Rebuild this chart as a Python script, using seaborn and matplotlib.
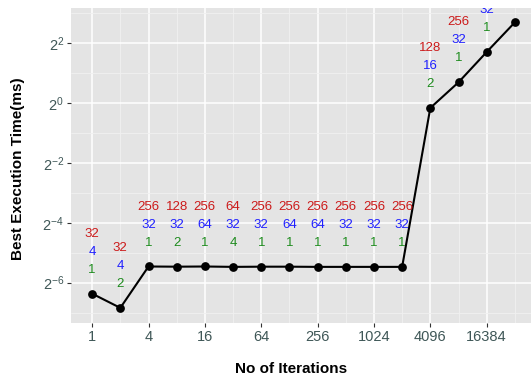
import numpy as np
import pandas as pd
import seaborn as sns
import matplotlib
matplotlib.use("Agg")
import matplotlib.pyplot as plt
from matplotlib.ticker import FixedLocator, FixedFormatter

# Benchmark results: best execution time per iteration count
iterations = [1, 2, 4, 8, 16, 32, 64, 128, 256, 512, 1024, 2048, 4096, 8192, 16384, 32768]
best_time_ms = [0.0121, 0.0087, 0.0227, 0.0226, 0.0227, 0.0225, 0.0226, 0.0226,
                0.0225, 0.0225, 0.0225, 0.0225, 0.895, 1.62, 3.27, 6.5]

# Best configuration for each run (three parameters)
param_green = [1, 2, 1, 2, 1, 4, 1, 1, 1, 1, 1, 1, 2, 1, 1]
param_blue = [4, 4, 32, 32, 64, 32, 32, 64, 64, 32, 32, 32, 16, 32, 32]
param_red = [32, 32, 256, 128, 256, 64, 256, 256, 256, 256, 256, 256, 128, 256]

df = pd.DataFrame({"iterations": iterations, "time": best_time_ms})

sns.set_theme(style="darkgrid")
plt.rcParams["font.family"] = ["Liberation Sans", "DejaVu Sans"]
plt.rcParams["mathtext.fontset"] = "custom"
plt.rcParams["mathtext.rm"] = "Liberation Sans"
plt.rcParams["mathtext.it"] = "Liberation Sans:italic"
plt.rcParams["mathtext.bf"] = "Liberation Sans:bold"

W, H = 531, 380
fig = plt.figure(figsize=(W / 100, H / 100), dpi=100)
ax = fig.add_axes([71 / W, (H - 323) / H, (536 - 71) / W, (323 - 8) / H])
ax.set_facecolor("#E4E4E4")

ax.set_xscale("log", base=2)
ax.set_yscale("log", base=2)

sns.lineplot(data=df, x="iterations", y="time", ax=ax, color="black",
             linewidth=1.5, marker="o", markersize=6.3, markeredgewidth=0,
             markerfacecolor="black", zorder=3)

# Stacked parameter labels above each point
offsets = [(param_green, 0.8, "#1E8B1E"), (param_blue, 1.4, "#2020FF"), (param_red, 2.0, "#CC1A1A")]
for vals, off, col in offsets:
    for xi, yi, v in zip(iterations, best_time_ms, vals):
        ax.text(xi, yi * 2 ** off, str(v), color=col, fontsize=9.5,
                ha="center", va="center", clip_on=True, zorder=4)

ax.set_xlim(2 ** -0.75, 2 ** 15.75)
ax.set_ylim(2 ** -7.35, 2 ** 3.18)

xmaj = [2 ** k for k in range(0, 16, 2)]
xmin = [2 ** k for k in range(1, 16, 2)]
ax.xaxis.set_major_locator(FixedLocator(xmaj))
ax.xaxis.set_major_formatter(FixedFormatter([str(v) for v in xmaj]))
ax.xaxis.set_minor_locator(FixedLocator(xmin))

ymaj_exp = [-6, -4, -2, 0, 2]
ax.yaxis.set_major_locator(FixedLocator([2.0 ** e for e in ymaj_exp]))
ax.yaxis.set_major_formatter(FixedFormatter([r"$2^{%d}$" % e for e in ymaj_exp]))
ax.yaxis.set_minor_locator(FixedLocator([2.0 ** e for e in [-7, -5, -3, -1, 1, 3]]))
ax.xaxis.set_minor_formatter(FixedFormatter([]))
ax.yaxis.set_minor_formatter(FixedFormatter([]))

ax.grid(which="major", color="white", linewidth=1.1)
ax.grid(which="minor", color="#F0F0F0", linewidth=0.6)
ax.set_axisbelow(True)
for s in ax.spines.values():
    s.set_visible(False)

tick_col = "#3F5757"
ax.tick_params(axis="both", which="major", length=3, width=0.8, color="#333333",
               labelsize=10.5, labelcolor=tick_col, pad=2, bottom=True, left=True)
ax.tick_params(axis="both", which="minor", length=0)

ax.set_xlabel("")
ax.set_ylabel("")
fig.text(291 / W, 1 - 369 / H, "No of Iterations", ha="center", va="center",
         fontsize=11, fontweight="bold", color="black")
fig.text(18 / W, 1 - 169 / H, "Best Execution Time(ms)", ha="center", va="center",
         rotation=90, fontsize=11, fontweight="bold", color="black")

fig.savefig("out.png", dpi=100)
